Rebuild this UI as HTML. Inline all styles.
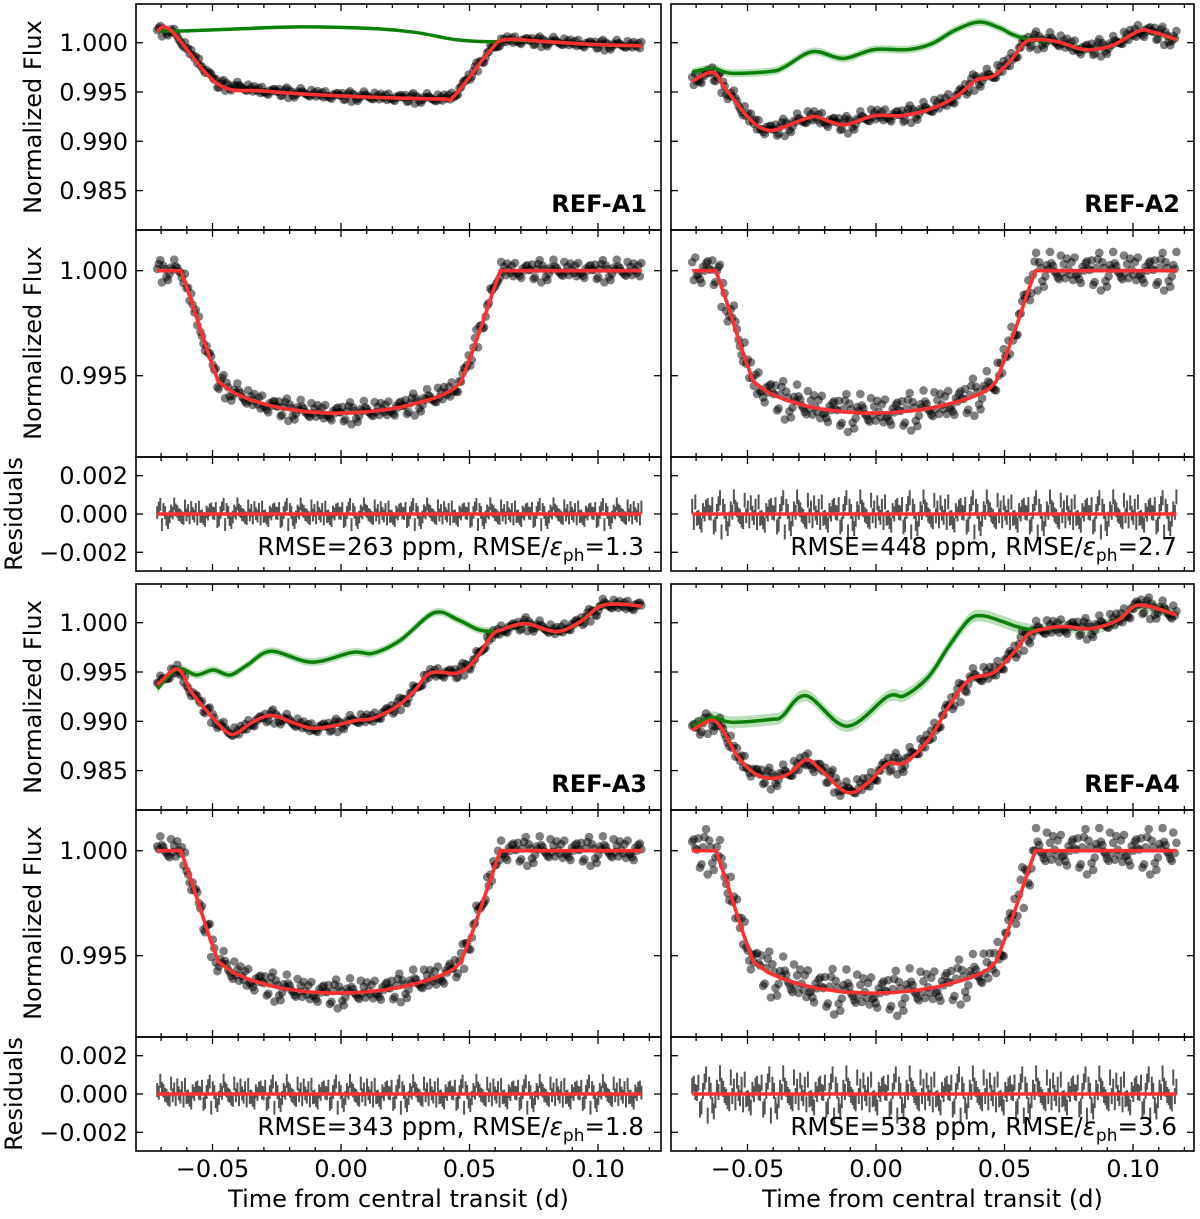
<!DOCTYPE html>
<html><head><meta charset="utf-8"><style>
html,body{margin:0;padding:0;background:#fff}
svg{display:block;font-family:"DejaVu Sans","Liberation Sans",sans-serif}
</style></head><body>
<svg id="fig" width="1200" height="1219" viewBox="0 0 1200 1219" xmlns="http://www.w3.org/2000/svg"></svg>
<script>
// ---- data arrays ----
var transitT = [-0.0715,-0.0623,-0.0585,-0.055,-0.0515,-0.0477,-0.0420,-0.0358,-0.0290,-0.0226,-0.0130,-0.0028,0.0070,0.017,0.0240,0.0302,0.0360,0.0408,0.0440,0.0467,0.0510,0.055,0.0590,0.062,0.1170];
var transitV = [1.0,1.0,0.99865,0.99733,0.99600,0.99471,0.99420,0.99387,0.99362,0.99344,0.99328,0.99321,0.99325,0.99337,0.99352,0.99371,0.99392,0.99416,0.99438,0.99471,0.99610,0.9975,0.99895,1.0,1.0];
var a1RedT = [-0.0715,-0.066,-0.0479,-0.03,0,0.0385,0.044,0.058,0.064,0.08,0.1,0.117];
var a1RedV = [1.0012,1.0012,0.9958,0.9951,0.9946,0.9943,0.9946,0.9992,1.0003,1.0001,0.9998,0.9997];
var a1GreenT = [-0.0715,-0.06,-0.04,-0.015,0.015,0.03,0.045,0.06,0.064,0.08,0.1,0.117];
var a1GreenV = [1.0012,1.0012,1.0014,1.0016,1.0014,1.0010,1.0003,1.0001,1.0003,1.0001,0.9998,0.9997];
var a2RedT = [-0.0715,-0.0636,-0.059,-0.051,-0.0457,-0.0405,-0.0352,-0.0246,-0.018,-0.0114,-0.0008,0.0098,0.0204,0.031,0.0389,0.0455,0.0521,0.0574,0.0613,0.0706,0.0812,0.0917,0.1023,0.1076,0.1169];
var a2RedV = [0.9961,0.9970,0.9955,0.9928,0.9915,0.9911,0.9915,0.9925,0.9920,0.9917,0.9926,0.9926,0.9932,0.9945,0.9962,0.9966,0.9981,0.9999,1.0003,1.0001,0.9993,0.9997,1.0012,1.0011,1.0003];
var a2GreenT = [-0.0715,-0.0636,-0.0563,-0.0405,-0.0352,-0.0246,-0.0127,-0.0008,0.0124,0.0217,0.031,0.0402,0.0481,0.0534,0.06,0.0706,0.0812,0.0917,0.1023,0.1076,0.1169];
var a2GreenV = [0.9970,0.9974,0.9969,0.9971,0.9976,0.9991,0.9984,0.9993,0.9993,0.9999,1.0013,1.0021,1.0015,1.0008,1.0003,1.0001,0.9993,0.9997,1.0012,1.0011,1.0003];
var a3RedT = [-0.0715,-0.0636,-0.0583,-0.0524,-0.0444,-0.0405,-0.0352,-0.0272,-0.018,-0.0114,-0.0034,0.0058,0.0124,0.0217,0.0283,0.0349,0.0455,0.0521,0.0587,0.0627,0.0719,0.0838,0.0931,0.1023,0.1169];
var a3RedV = [0.9937,0.9953,0.9930,0.9911,0.9889,0.9888,0.9898,0.9906,0.9898,0.9893,0.9895,0.9901,0.9903,0.9915,0.9930,0.9949,0.9949,0.9962,0.9987,0.9993,0.9999,0.9991,1.0001,1.0018,1.0017];
var a3GreenT = [-0.0715,-0.0636,-0.0563,-0.0497,-0.0431,-0.0365,-0.0272,-0.0114,0.0045,0.0124,0.023,0.0362,0.0455,0.0534,0.06,0.0627,0.0719,0.0838,0.0931,0.1023,0.1169];
var a3GreenV = [0.9933,0.9953,0.9947,0.9952,0.9947,0.9957,0.9971,0.9960,0.9970,0.9969,0.9982,1.0010,1.0003,0.9993,0.9991,0.9993,0.9999,0.9991,1.0001,1.0018,1.0017];
var a4RedT = [-0.0715,-0.0636,-0.059,-0.0537,-0.0471,-0.0405,-0.0338,-0.0272,-0.022,-0.0114,-0.0034,0.0045,0.0111,0.0204,0.0283,0.0362,0.0455,0.0534,0.0587,0.064,0.0732,0.0838,0.0944,0.1023,0.1169];
var a4RedV = [0.9891,0.9901,0.9888,0.9864,0.9847,0.9842,0.9847,0.9861,0.9852,0.9828,0.9837,0.9857,0.9858,0.9881,0.9915,0.9942,0.9949,0.9969,0.9987,0.9993,0.9996,0.9994,1.0003,1.0018,1.0008];
var a4GreenT = [-0.0715,-0.0636,-0.0563,-0.0405,-0.0365,-0.0272,-0.0114,0.0045,0.0111,0.0204,0.0283,0.0362,0.0415,0.0494,0.0547,0.06,0.064,0.0732,0.0838,0.0944,0.1023,0.1169];
var a4GreenV = [0.9895,0.9904,0.9899,0.9902,0.9905,0.9926,0.9895,0.9925,0.9926,0.9945,0.9976,1.0003,1.0007,1.0001,0.9996,0.9993,0.9993,0.9996,0.9994,1.0003,1.0018,1.0008];
var noisePattern = [0.3,-1.1,0.8,1.6,-0.4,-0.9,0.2,1.2,-1.7,0.5,-0.2,0.9,-1.3,0.1,1.9,-0.6,-0.1,0.7,-1.0,0.4,1.1,-2.1,0.6,-0.3,-0.8,1.4,0.0,-1.5,0.9,0.2,-0.7,1.3,-0.5,0.8,-1.2,0.3,2.0,-0.9,0.1,-0.4,1.0];
var rmsePpm = [263,448,343,538];
var ratio = [1.3,2.7,1.8,3.6];
var bandHalf = [0.00008,0.0004,0.0004,0.0006];
var panelNames = ["REF-A1","REF-A2","REF-A3","REF-A4"];
var xTicks = [-0.05,0,0.05,0.10];
var xTickLabels = ["\u22120.05","0.00","0.05","0.10"];
var rowAticks = [1.000,0.995,0.990,0.985];
var rowAlabels = ["1.000","0.995","0.990","0.985"];
var rowBticks = [1.000,0.995];
var rowBlabels = ["1.000","0.995"];
var resTicks = [0.002,0,-0.002];
var resLabels = ["0.002","0.000","\u22120.002"];

var NS="http://www.w3.org/2000/svg";
var svg=document.getElementById('fig');
var cols=[{x0:136,x1:661,zero:341},{x0:671,x1:1194,zero:876}];
var PXD=2570;
function mk(tag,attrs,parent){var e=document.createElementNS(NS,tag);for(var k in attrs)e.setAttribute(k,attrs[k]);(parent||svg).appendChild(e);return e;}
function interp(T,V,t){if(t<=T[0])return V[0];for(var i=1;i<T.length;i++){if(t<=T[i]){var f=(t-T[i-1])/(T[i]-T[i-1]);return V[i-1]+f*(V[i]-V[i-1]);}}return V[V.length-1];}
function smoothPath(pts){var d='M'+pts[0][0].toFixed(1)+','+pts[0][1].toFixed(1);for(var i=0;i<pts.length-1;i++){var p0=pts[Math.max(0,i-1)],p1=pts[i],p2=pts[i+1],p3=pts[Math.min(pts.length-1,i+2)];var c1x=p1[0]+(p2[0]-p0[0])/6,c1y=p1[1]+(p2[1]-p0[1])/6,c2x=p2[0]-(p3[0]-p1[0])/6,c2y=p2[1]-(p3[1]-p1[1])/6;d+='C'+c1x.toFixed(1)+','+c1y.toFixed(1)+' '+c2x.toFixed(1)+','+c2y.toFixed(1)+' '+p2[0].toFixed(1)+','+p2[1].toFixed(1);}return d;}

var clipId=0;
function panel(col,top,bot,yfn,yt,ylab,showLabels,name){
  var c=cols[col];
  var g=mk('g',{});
  
  
  var id='cp'+(clipId++);
  var cp=mk('clipPath',{id:id},g);mk('rect',{x:c.x0,y:top,width:c.x1-c.x0,height:bot-top},cp);
  var content=mk('g',{'clip-path':'url(#'+id+')'},g);
  var ax=mk('g',{stroke:'#000','stroke-width':1.3},g);
  for(var m=-7;m<=12;m++){var t=m/100;var x=c.zero+t*PXD;if(x<c.x0+1||x>c.x1-1)continue;var L=(m%5===0)?7:4;
    mk('line',{x1:x,y1:bot,x2:x,y2:bot-L},ax);mk('line',{x1:x,y1:top,x2:x,y2:top+L},ax);}
  for(var i=0;i<yt.length;i++){var y=yfn(yt[i]);mk('line',{x1:c.x0,y1:y,x2:c.x0+7,y2:y},ax);mk('line',{x1:c.x1,y1:y,x2:c.x1-7,y2:y},ax);
    if(showLabels){var tx=mk('text',{x:128,y:y+8.5,'text-anchor':'end','font-size':24,fill:'#000'});tx.textContent=ylab[i];
      
      }}
  var fr=mk('rect',{x:c.x0,y:top,width:c.x1-c.x0,height:bot-top,fill:'none',stroke:'#000','stroke-width':1.6},g);
  
  
  return {c:c,content:content,yfn:yfn,top:top,bot:bot};
}

var reds=[[a1RedT,a1RedV],[a2RedT,a2RedV],[a3RedT,a3RedV],[a4RedT,a4RedV]];
var greens=[[a1GreenT,a1GreenV],[a2GreenT,a2GreenV],[a3GreenT,a3GreenV],[a4GreenT,a4GreenV]];
var times=[];for(var k=0;k<=314;k++)times.push(-0.0715+k*0.0006);

for(var p=0;p<4;p++){
  var col=p%2, grp=Math.floor(p/2), off=grp*580;
  var c=cols[col];
  var X=function(t){return c.zero+t*PXD;};
  var yA=(function(o){return function(v){return 42.7+o+(1-v)*9860;};})(off);
  var yB=(function(o){return function(v){return 270.7+o+(1-v)*21000;};})(off);
  var yC=(function(o){return function(r){return 514+o-r*19150;};})(off);
  var rm=rmsePpm[p]*1e-6, eph=rm/ratio[p];
  var noise=times.map(function(t,i){return noisePattern[(i*7+p*11)%noisePattern.length]*rm;});
  var R=reds[p], G=greens[p];

  var pa=panel(col,4+off,230+off,yA,rowAticks,rowAlabels,col===0,'raw-lightcurve-panel-'+(p+1));
  var up=G[0].map(function(t,i){return [X(t),yA(G[1][i]+bandHalf[p])];});
  var dn=G[0].map(function(t,i){return [X(t),yA(G[1][i]-bandHalf[p])];}).reverse();
  var bd=smoothPath(up)+'L'+smoothPath(dn).slice(1)+'Z';
  var band=mk('path',{d:bd,fill:'rgba(0,140,0,0.28)',stroke:'none'},pa.content);
  
  
  var sg=mk('g',{fill:'rgba(0,0,0,0.5)'},pa.content);
  
  
  times.forEach(function(t,i){mk('circle',{cx:X(t).toFixed(1),cy:yA(interp(R[0],R[1],t)+noise[i]).toFixed(1),r:4.3},sg);});
  var gl=mk('path',{d:smoothPath(G[0].map(function(t,i){return [X(t),yA(G[1][i])];})),fill:'none',stroke:'#0a7f0a','stroke-width':3.5},pa.content);
  
  
  var rl=mk('path',{d:smoothPath(R[0].map(function(t,i){return [X(t),yA(R[1][i])];})),fill:'none',stroke:'#ff3030','stroke-width':3.6},pa.content);
  
  
  var nm=mk('text',{x:c.x1-14,y:212+off,'text-anchor':'end','font-size':24,'font-weight':'bold',fill:'#000'});
  nm.textContent=panelNames[p];
  
  

  var pb=panel(col,230+off,457+off,yB,rowBticks,rowBlabels,col===0,'detrended-panel-'+(p+1));
  var sb=mk('g',{fill:'rgba(0,0,0,0.5)'},pb.content);
  
  
  times.forEach(function(t,i){mk('circle',{cx:X(t).toFixed(1),cy:yB(interp(transitT,transitV,t)+noise[i]).toFixed(1),r:4.3},sb);});
  var tl=mk('polyline',{points:transitT.map(function(t,i){return X(t).toFixed(1)+','+yB(transitV[i]).toFixed(1);}).join(' '),fill:'none',stroke:'#ff3030','stroke-width':3.6,'stroke-linejoin':'round'},pb.content);
  
  

  var pc=panel(col,457+off,571+off,yC,resTicks,resLabels,col===0,'residuals-panel-'+(p+1));
  var eg=mk('g',{stroke:'#555','stroke-width':2},pc.content);
  
  
  var half=eph+0.5*rm;
  times.forEach(function(t,i){var x=X(t).toFixed(1);mk('line',{x1:x,x2:x,y1:yC(noise[i]+half).toFixed(1),y2:yC(noise[i]-half).toFixed(1)},eg);});
  var zl=mk('line',{x1:X(times[0]),x2:X(times[times.length-1]),y1:yC(0),y2:yC(0),stroke:'#ff3030','stroke-width':3.6},pc.content);
  
  
  var rt=mk('text',{x:c.x1-17,y:555+off,'text-anchor':'end','font-size':24.5,fill:'#000'});
  
  
  rt.innerHTML='RMSE='+rmsePpm[p]+' ppm, RMSE/<tspan font-style="italic">\u03b5</tspan><tspan font-size="17" dy="6">ph</tspan><tspan dy="-6">='+ratio[p].toFixed(1)+'</tspan>';

  if(col===0){
    [[117+off,'Normalized Flux',34],[343+off,'Normalized Flux',34],[514+off,'Residuals',15]].forEach(function(a){
      var yl=mk('text',{x:a[2],y:a[0],'text-anchor':'middle','font-size':24,fill:'#000',transform:'rotate(-90 '+a[2]+' '+a[0]+')','dominant-baseline':'middle'});
      yl.textContent=a[1];
      
      
    });
  }
  if(grp===1){
    xTicks.forEach(function(t,i){var tx=mk('text',{x:X(t),y:1177,'text-anchor':'middle','font-size':24,fill:'#000'});tx.textContent=xTickLabels[i];
      
      });
    var xt=mk('text',{x:(c.x0+c.x1)/2,y:1207,'text-anchor':'middle','font-size':24,fill:'#000'});
    xt.textContent='Time from central transit (d)';
    
    
  }
}
</script>
</body></html>
